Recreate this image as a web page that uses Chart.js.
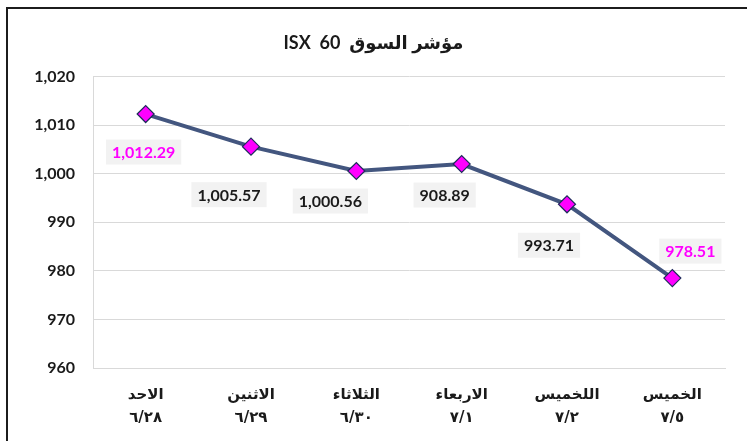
<!DOCTYPE html>
<html>
<head>
<meta charset="utf-8">
<script src="https://cdn.jsdelivr.net/npm/chart.js@4"></script>
<style>
  body { margin: 0; overflow: hidden; background: #fff; }
  #wrap { position: relative; width: 747px; height: 441px; overflow: hidden; }
  #frame { position: absolute; left: 6px; top: 7px; width: 800px; height: 500px; border: 2px solid #1c1c1c; box-sizing: border-box; }
  canvas { position: absolute; left: 0; top: 0; }
</style>
</head>
<body>
<div id="wrap">
  <div id="frame"></div>
  <canvas id="chart" width="747" height="441"></canvas>
</div>
<script>
// chart data
const days = ['الاحد', 'الاثنين', 'الثلاثاء', 'الاربعاء', 'اللخميس', 'الخميس'];
const dates = ['٦/٢٨', '٦/٢٩', '٦/٣٠', '٧/١', '٧/٢', '٧/٥'];
const values = [1012.29, 1005.57, 1000.56, 1002.0, 993.71, 978.51];
// the labels as printed on the original (4th one reads 908.89 there)
const valueLabels = ['1,012.29', '1,005.57', '1,000.56', '908.89', '993.71', '978.51'];
const yMin = 960, yMax = 1020, yStep = 10;

const ctx = document.getElementById('chart');

// where each value box sits relative to its point
const labelOffsets = [[-2, 38], [-22, 48], [-26, 30], [-17, 31], [-18, 41], [18, -27]];
const labelColors = ['#ff00ff', '#1a1a1a', '#1a1a1a', '#1a1a1a', '#1a1a1a', '#ff00ff'];

const valueBoxes = {
  id: 'valueBoxes',
  afterDatasetsDraw(chart) {
    const c = chart.ctx;
    const meta = chart.getDatasetMeta(0);
    c.save();
    c.font = 'bold 16px Lato, "DejaVu Sans", sans-serif';
    c.textAlign = 'center';
    c.textBaseline = 'middle';
    meta.data.forEach(function(pt, i){
      const x = pt.x + labelOffsets[i][0];
      const y = pt.y + labelOffsets[i][1];
      const w = c.measureText(valueLabels[i]).width + 12;
      const h = 25;
      c.fillStyle = '#f2f2f2';
      c.fillRect(x - w / 2, y - h / 2, w, h);
      c.fillStyle = labelColors[i];
      c.fillText(valueLabels[i], x, y + 1);
    });
    c.restore();
  }
};

new Chart(ctx, {
  type: 'line',
  data: {
    labels: days.map((d, i) => [d, dates[i]]),
    datasets: [{
      data: values,
      borderColor: '#43567f',
      borderWidth: 4,
      tension: 0,
      pointStyle: 'rectRot',
      pointRadius: 8.5,
      pointBackgroundColor: '#ff00ff',
      pointBorderColor: '#1f2b5c',
      pointBorderWidth: 1.2
    }]
  },
  plugins: [valueBoxes],
  options: {
    responsive: false,
    animation: false,
    layout: {
      padding: { left: 22, right: 22 }
    },
    plugins: {
      legend: { display: false },
      tooltip: { enabled: false },
      title: {
        display: true,
        text: 'ISX  60  مؤشر السوق',
        color: '#1a1a1a',
        font: { family: 'Lato, "DejaVu Sans", sans-serif', size: 18, weight: 'bold' },
        padding: { top: 32, bottom: 23 }
      }
    },
    scales: {
      x: {
        offset: true,
        grid: { display: false },
        border: { display: true, color: '#d9d9d9' },
        ticks: {
          color: '#1a1a1a',
          padding: 8,
          maxRotation: 0,
          font: { family: '"DejaVu Sans", sans-serif', size: 15, weight: 'bold', lineHeight: 1.5 }
        },
        afterFit: function(scale){ scale.height = 73; }
      },
      y: {
        min: yMin,
        max: yMax,
        grid: { color: '#d9d9d9', drawTicks: false },
        border: { display: true, color: '#d9d9d9' },
        ticks: {
          stepSize: yStep,
          color: '#1a1a1a',
          padding: 18,
          font: { family: 'Lato, sans-serif', size: 16, weight: 'bold' },
          callback: function(v){ return v.toLocaleString('en-US'); }
        },
        afterFit: function(scale){ scale.width = 71; }
      }
    }
  }
});
</script>
</body>
</html>
